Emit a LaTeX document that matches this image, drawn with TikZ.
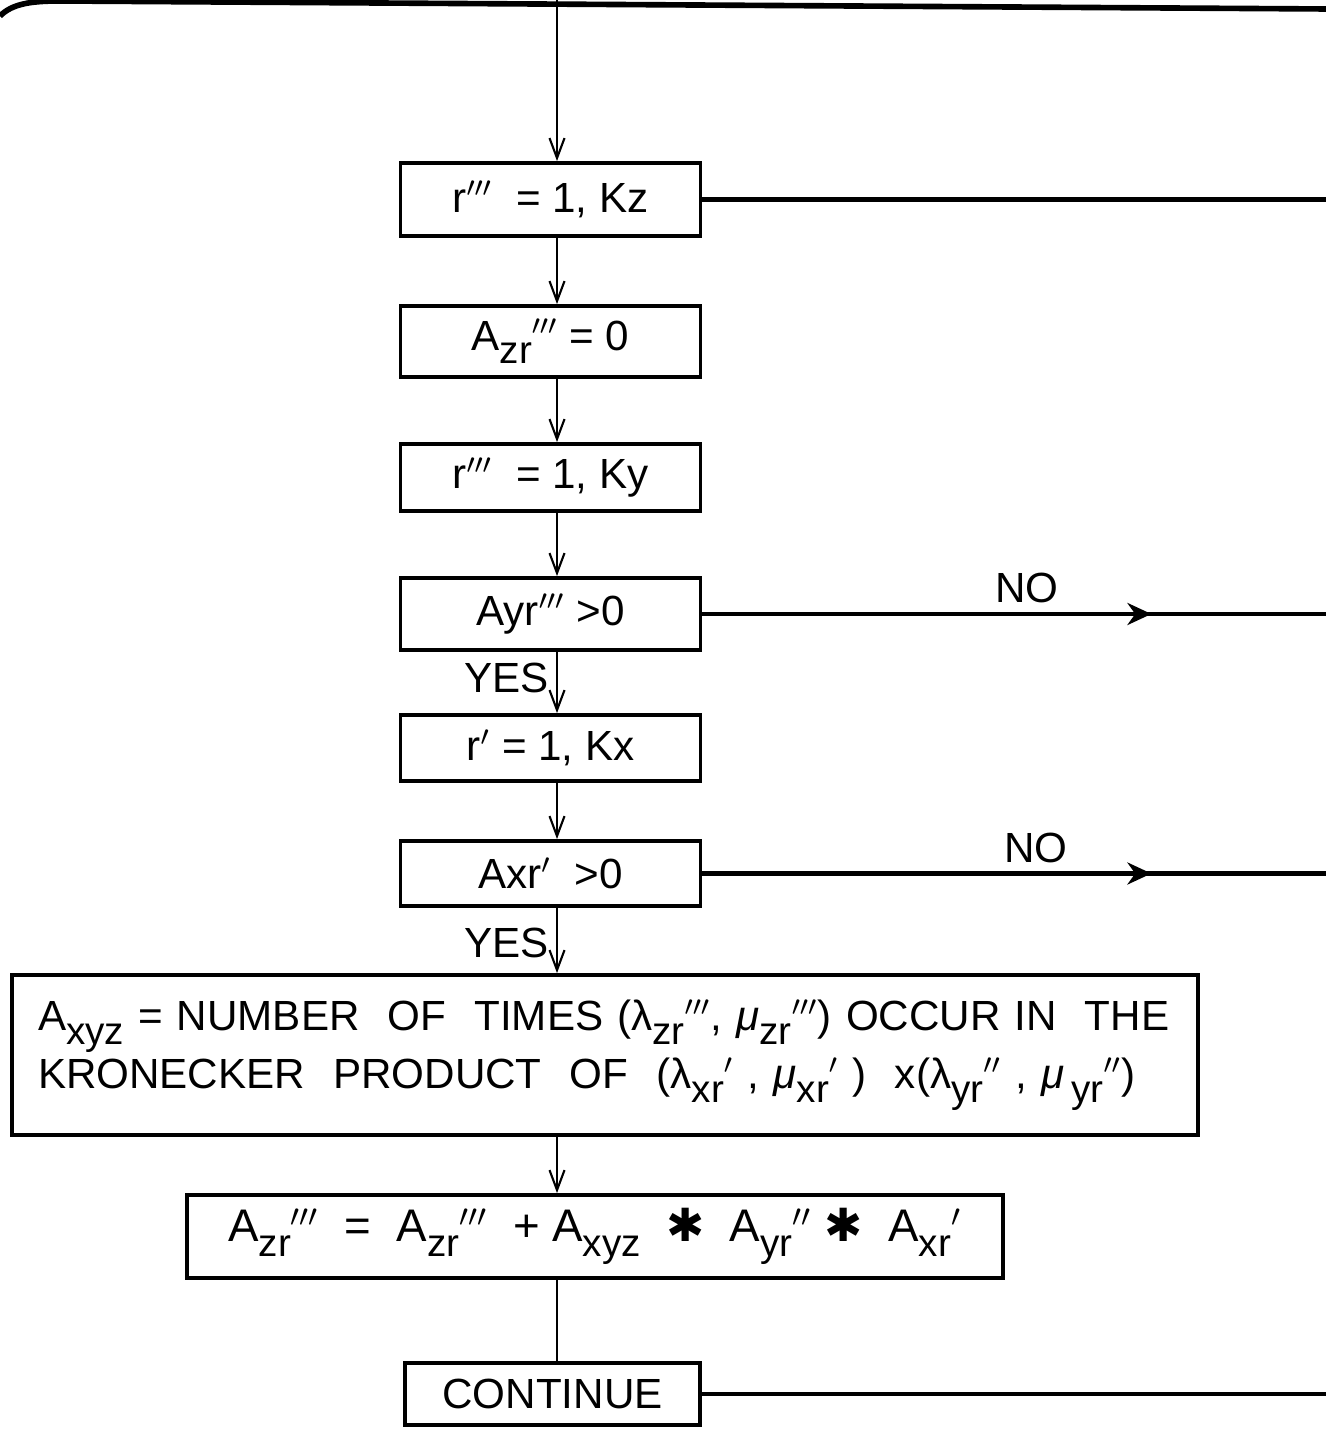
\documentclass[tikz,border=0pt]{standalone}
\usepackage{fontspec}
\setmainfont{Liberation Sans}
\newfontfamily\symfont{DejaVu Sans}
\usetikzlibrary{arrows.meta,decorations.markings,calc}
\newcommand{\dn}[1]{\raisebox{-0.6ex}{\fontsize{11}{12}\selectfont #1}}

\begin{document}
\begin{tikzpicture}[
  every node/.style={font=\fontsize{12}{16.5}\selectfont},
  box/.style={draw,line width=1.1pt,inner sep=0pt,minimum width=3cm},
  flow/.style={line width=0.6pt,-{Straight Barb[length=2mm,width=1.5mm]}},
  noarrow/.style={line width=1.3pt,postaction={decorate},
    decoration={markings,mark=at position #1 with {\arrow{Stealth[length=2.4mm,width=2.2mm]}}}}]
\useasboundingbox (0,0) rectangle (13.26,-14.30);

% page rule at the top
\draw[line width=1.6pt] (0,-0.16) .. controls (0.12,-0.04) and (0.3,-0.01) .. (0.6,-0.01) -- (13.26,-0.09);

\coordinate (spine) at (5.57,0);
\coordinate (edge) at (13.26,0);

\foreach \nm/\y/\h/\txt in {
    loopz/-1.995/0.73/{r$'''$\ \ = 1,\ Kz},
    zeroA/-3.415/0.71/{A\dn{zr}$'''$ = 0},
    loopy/-4.775/0.67/{r$'''$\ \ = 1,\ Ky},
    testy/-6.14/0.72/{Ayr$'''$ >0},
    loopx/-7.48/0.66/{r$'$\ = 1,\ Kx},
    testx/-8.735/0.65/{Axr$'$\ \ >0}}
  \node[box,minimum height=\h cm] (\nm) at (5.505,\y) {\txt};

\node[box,minimum width=11.86cm,minimum height=1.6cm,text width=11.34cm,align=left] (kron) at (6.05,-10.55)
  {A\dn{xyz} = NUMBER\ \ OF\ \ TIMES (λ\dn{zr}$'''$, \textit{μ}\dn{zr}$'''$) OCCUR\ IN\ \ THE\\
   KRONECKER\ \ PRODUCT\ \ OF\ \ (λ\dn{xr}$'$\ , \textit{μ}\dn{xr}$'$\ )\ \ x(λ\dn{yr}$''$\ , \textit{μ}\,\dn{yr}$''$)};
\node[box,minimum width=8.16cm,minimum height=0.83cm,font=\fontsize{13}{15}\selectfont] (accum) at (5.95,-12.365)
  {A\dn{zr}$'''$\ \ = \ A\dn{zr}$'''$\ \ +\ A\dn{xyz}\ \ {\symfont ✱}\ \ A\dn{yr}$''$\ {\symfont ✱}\ \ A\dn{xr}$'$};
\node[box,minimum width=2.95cm,minimum height=0.62cm] (cont) at (5.525,-13.94) {CONTINUE};

\draw[flow] (spine) -- (loopz.north -| spine);
\foreach \a/\b in {loopz/zeroA,zeroA/loopy,loopy/testy,loopx/testx,kron/accum}
  \draw[flow] (\a.south -| spine) -- (\b.north -| spine);
\draw[flow] (testy.south -| spine) -- node[pos=0.43,left,inner sep=2pt]{YES} (loopx.north -| spine);
\draw[flow] (testx.south -| spine) -- node[pos=0.54,left,inner sep=2pt]{YES} (kron.north -| spine);
\draw[line width=0.6pt] (accum.south -| spine) -- (cont.north -| spine);

\draw[line width=1.3pt] (loopz.east) -- (loopz.east -| edge);
\draw[noarrow=0.72] (testy.east) -- node[pos=0.52,above=1.5pt,inner sep=1pt]{NO} (testy.east -| edge);
\draw[noarrow=0.72] (testx.east) -- node[pos=0.535,above=1.5pt,inner sep=1pt]{NO} (testx.east -| edge);
\draw[line width=1.3pt] (cont.east) -- (cont.east -| edge);
\end{tikzpicture}
\end{document}
